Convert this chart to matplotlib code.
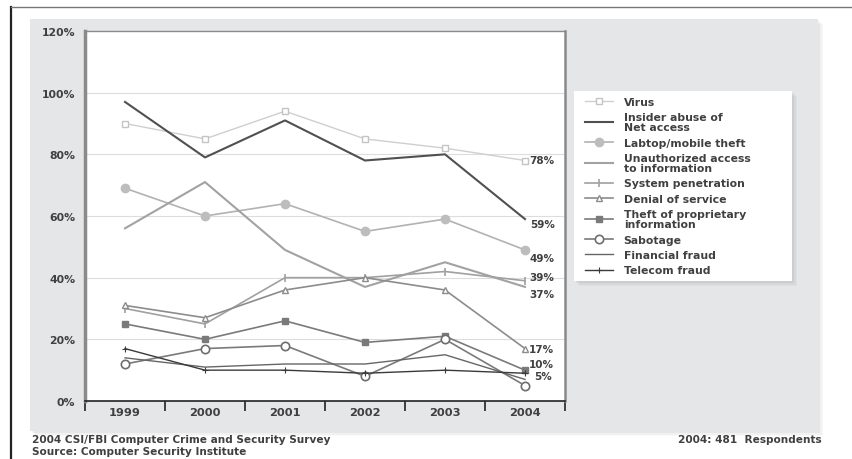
import matplotlib
matplotlib.use("Agg")
import matplotlib.pyplot as plt
from matplotlib.patches import Rectangle
from matplotlib.lines import Line2D

plt.rcParams['font.family'] = ['DejaVu Sans']

years = ["1999", "2000", "2001", "2002", "2003", "2004"]
virus = [90, 85, 94, 85, 82, 78]
insider_abuse = [97, 79, 91, 78, 80, 59]
laptop_theft = [69, 60, 64, 55, 59, 49]
unauthorized_access = [56, 71, 49, 37, 45, 37]
system_penetration = [30, 25, 40, 40, 42, 39]
denial_of_service = [31, 27, 36, 40, 36, 17]
proprietary_theft = [25, 20, 26, 19, 21, 10]
sabotage = [12, 17, 18, 8, 20, 5]
financial_fraud = [14, 11, 12, 12, 15, 7]
telecom_fraud = [17, 10, 10, 9, 10, 9]

series_names = ["Virus", "Insider abuse of\nNet access", "Labtop/mobile theft",
                "Unauthorized access\nto information", "System penetration",
                "Denial of service", "Theft of proprietary\ninformation",
                "Sabotage", "Financial fraud", "Telecom fraud"]
y_ticks = [0, 20, 40, 60, 80, 100, 120]
end_labels = ["78%", "59%", "49%", "39%", "37%", "17%", "10%", "5%"]

W, H = 852, 460
fig = plt.figure(figsize=(W / 100, H / 100), dpi=100)
fig.patch.set_facecolor("white")

def fx(px):
    return px / W

def fy(py):
    return 1 - py / H

TXT = "#404040"

# outer frame lines
fig.add_artist(Line2D([fx(11), fx(11)], [fy(8), fy(460)], color="#222222", lw=1.6))
fig.add_artist(Line2D([fx(11), fx(852)], [fy(8), fy(8)], color="#777777", lw=1.0))

# grey panel with soft shadow
for i, a in enumerate([0.05, 0.08, 0.12]):
    off = 5 - i * 1.5
    fig.add_artist(Rectangle((fx(30 + off), fy(432 + off)), fx(788), 412 / H,
                             facecolor="#9a9a9a", edgecolor="none", alpha=a))
fig.add_artist(Rectangle((fx(30), fy(432)), fx(788), 412 / H,
                         facecolor="#e5e6e8", edgecolor="none"))

ax = fig.add_axes([fx(85), fy(402), fx(480), 370 / H])
ax.set_facecolor("white")
ax.set_zorder(2)

x = list(range(len(years)))
styles = [
    (virus, dict(color="#cfcfcf", lw=1.0, marker="s", ms=4, mfc="white", mec="#c4c4c4")),
    (insider_abuse, dict(color="#505050", lw=1.5)),
    (laptop_theft, dict(color="#b2b2b2", lw=1.2, marker="o", ms=6, mfc="#bdbdbd", mec="#bdbdbd")),
    (unauthorized_access, dict(color="#a2a2a2", lw=1.5)),
    (system_penetration, dict(color="#a0a0a0", lw=1.2, marker="|", ms=6, mew=1.2)),
    (denial_of_service, dict(color="#8c8c8c", lw=1.2, marker="^", ms=4, mfc="white", mec="#8c8c8c")),
    (proprietary_theft, dict(color="#7a7a7a", lw=1.2, marker="s", ms=4.5, mfc="#7a7a7a", mec="#7a7a7a")),
    (sabotage, dict(color="#7a7a7a", lw=1.2, marker="o", ms=6, mfc="white", mec="#6e6e6e", mew=1.2)),
    (financial_fraud, dict(color="#666666", lw=1.0)),
    (telecom_fraud, dict(color="#3a3a3a", lw=1.0, marker="+", ms=4, mew=0.8)),
]
for (vals, st), name in zip(styles, series_names):
    ax.plot(x, vals, label=name, zorder=3, clip_on=False, **st)

ax.set_xlim(-0.5, len(years) - 0.5)
ax.set_ylim(0, 120)

# gridlines
for yv in y_ticks[1:-1]:
    ax.axhline(yv, color="#dddddd", lw=0.8, zorder=1)

ax.set_yticks(y_ticks)
ax.set_yticklabels([f"{v}%" for v in y_ticks], fontsize=7.8, fontweight="bold", color=TXT)
ax.tick_params(axis="y", length=0, pad=7)

# band edges as ticks, year labels centred in bands
ax.set_xticks([i - 0.5 for i in range(len(years) + 1)])
ax.set_xticklabels([])
ax.tick_params(axis="x", which="major", direction="out", length=7, width=1.2, color="#222222")
ax.set_xticks(x, minor=True)
ax.set_xticklabels(years, minor=True, fontsize=8.2, fontweight="bold", color=TXT)
ax.tick_params(axis="x", which="minor", length=0, pad=4)

ax.spines["left"].set_color("#8a8a8a")
ax.spines["left"].set_linewidth(2.5)
ax.spines["right"].set_color("#8a8a8a")
ax.spines["right"].set_linewidth(1.8)
ax.spines["top"].set_color("#8a8a8a")
ax.spines["top"].set_linewidth(1.0)
ax.spines["bottom"].set_color("#222222")
ax.spines["bottom"].set_linewidth(1.2)

# end-of-line value labels for 2004
label_series = [virus, insider_abuse, laptop_theft, system_penetration,
                unauthorized_access, denial_of_service, proprietary_theft, sabotage]
label_dy = [0, -5, -8, 4, -7, 0, 6, 10]
label_dx = [4, 5, 4, 4, 4, 4, 4, 9]
for vals, txt, dy, dx in zip(label_series, end_labels, label_dy, label_dx):
    ax.annotate(txt, xy=(x[-1], vals[-1]), xytext=(dx, dy), textcoords="offset pixels",
                ha="left", va="center", fontsize=7.5, fontweight="bold", color=TXT,
                zorder=4, annotation_clip=False)

# legend with shadow
lx0, ly0, lw_, lh_ = 574, 92, 218, 190
for i, a in enumerate([0.06, 0.09, 0.13]):
    off = 5 - i * 1.5
    fig.add_artist(Rectangle((fx(lx0 + off), fy(ly0 + lh_ + off)), fx(lw_), lh_ / H,
                             facecolor="#888888", edgecolor="none", alpha=a, zorder=3))
fig.add_artist(Rectangle((fx(lx0), fy(ly0 + lh_)), fx(lw_), lh_ / H,
                         facecolor="white", edgecolor="none", zorder=3))
handles, labels = ax.get_legend_handles_labels()
leg = fig.legend(handles, labels, loc="upper left", bbox_to_anchor=(fx(lx0 + 2), fy(ly0 - 3)),
                 frameon=False, fontsize=7.8, labelspacing=0.5, handlelength=2.6,
                 handletextpad=1.0, borderpad=0.3, labelcolor=TXT)
leg.set_zorder(4)
for t in leg.get_texts():
    t.set_fontweight("bold")
    t.set_linespacing(1.0)

# footer
fig.text(fx(32), fy(440), "2004 CSI/FBI Computer Crime and Security Survey", fontsize=7.6,
         fontweight="bold", color=TXT, va="center", ha="left")
fig.text(fx(32), fy(452), "Source: Computer Security Institute", fontsize=7.6,
         fontweight="bold", color=TXT, va="center", ha="left")
fig.text(fx(822), fy(440), "2004: 481  Respondents", fontsize=7.6,
         fontweight="bold", color=TXT, va="center", ha="right")

fig.savefig("out.png", dpi=100)
